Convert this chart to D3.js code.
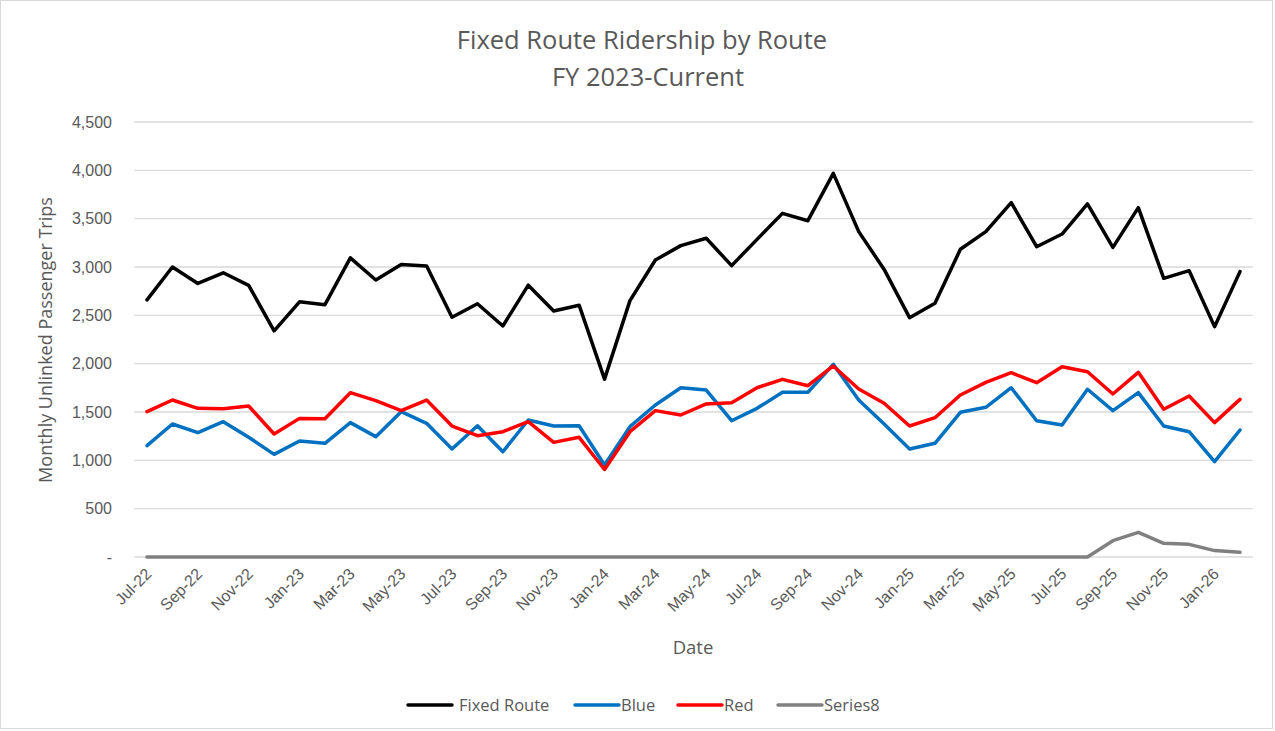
<!DOCTYPE html>
<html>
<head>
<meta charset="utf-8">
<script src="https://cdn.jsdelivr.net/npm/d3@7"></script>
<style>
  body { margin: 0; background: #fff; }
  svg { display: block; font-family: "Open Sans", "Liberation Sans", sans-serif; }
</style>
</head>
<body>
<div id="chart"></div>
<script>
// months Jul-22 .. Feb-26
var months = ["Jul-22","Aug-22","Sep-22","Oct-22","Nov-22","Dec-22",
  "Jan-23","Feb-23","Mar-23","Apr-23","May-23","Jun-23","Jul-23","Aug-23","Sep-23","Oct-23","Nov-23","Dec-23",
  "Jan-24","Feb-24","Mar-24","Apr-24","May-24","Jun-24","Jul-24","Aug-24","Sep-24","Oct-24","Nov-24","Dec-24",
  "Jan-25","Feb-25","Mar-25","Apr-25","May-25","Jun-25","Jul-25","Aug-25","Sep-25","Oct-25","Nov-25","Dec-25",
  "Jan-26","Feb-26"];

var fixedRoute = [2660, 3000, 2830, 2940, 2810, 2340, 2640, 2610, 3095, 2865, 3025, 3010,
  2480, 2620, 2390, 2812, 2545, 2605, 1840, 2652, 3072, 3221, 3297, 3014, 3286, 3555,
  3479, 3969, 3366, 2975, 2476, 2624, 3183, 3366, 3666, 3210, 3341, 3652, 3203, 3614,
  2883, 2962, 2383, 2952];

var blue = [1152, 1376, 1286, 1400, 1238, 1062, 1200, 1176, 1390, 1245, 1503, 1383,
  1117, 1358, 1089, 1417, 1355, 1358, 951, 1348, 1572, 1751, 1727, 1410, 1538, 1704,
  1704, 1993, 1624, 1376, 1117, 1176, 1497, 1549, 1751, 1410, 1366, 1735, 1514, 1700,
  1355, 1296, 986, 1314];

var red = [1503, 1624, 1538, 1534, 1562, 1272, 1434, 1431, 1700, 1617, 1514, 1624,
  1355, 1255, 1296, 1400, 1186, 1238, 905, 1296, 1514, 1469, 1583, 1596, 1751, 1838,
  1772, 1976, 1738, 1590, 1355, 1441, 1676, 1807, 1907, 1803, 1969, 1917, 1686, 1910,
  1528, 1666, 1390, 1631];

var series8 = [0, 0, 0, 0, 0, 0, 0, 0, 0, 0, 0, 0,
  0, 0, 0, 0, 0, 0, 0, 0, 0, 0, 0, 0, 0, 0,
  0, 0, 0, 0, 0, 0, 0, 0, 0, 0, 0, 0, 169, 255,
  141, 131, 66, 48];

var yTicks = [0, 500, 1000, 1500, 2000, 2500, 3000, 3500, 4000, 4500];

var seriesNames = ["Fixed Route", "Blue", "Red", "Series8"];
var seriesColors = ["#000000", "#0070C0", "#FF0000", "#808080"];

var W = 1275, H = 731;
var plotLeft = 134.3, plotRight = 1252.7, plotTop = 122, plotBottom = 557;
var textColor = "#595959";

var svg = d3.select("#chart").append("svg")
  .attr("width", W)
  .attr("height", H);

svg.append("rect")
  .attr("x", 0.5).attr("y", 0.5)
  .attr("width", W - 3).attr("height", H - 3)
  .attr("fill", "#fff")
  .attr("stroke", "#d9d9d9");

var x = d3.scalePoint().domain(months).range([plotLeft, plotRight]).padding(0.5);
var y = d3.scaleLinear().domain([0, 4500]).range([plotBottom, plotTop]);

// gridlines
svg.append("g")
  .selectAll("line")
  .data(yTicks)
  .enter().append("line")
  .attr("x1", plotLeft).attr("x2", plotRight)
  .attr("y1", function(d) { return y(d); })
  .attr("y2", function(d) { return y(d); })
  .attr("stroke", "#d9d9d9")
  .attr("stroke-width", 1.3);

// y axis labels
var yAxis = d3.axisLeft(y)
  .tickValues(yTicks)
  .tickSize(0)
  .tickPadding(0)
  .tickFormat(function(d) { return d === 0 ? "-" : d3.format(",")(d); });

svg.append("g")
  .attr("transform", "translate(112,0)")
  .call(yAxis)
  .call(function(g) { g.select(".domain").remove(); })
  .selectAll("text")
  .attr("fill", textColor)
  .style("font-size", "16px")
  .style("font-family", "inherit");

// x axis labels, every other month
var xAxis = d3.axisBottom(x)
  .tickValues(months.filter(function(d, i) { return i % 2 === 0; }))
  .tickSize(0)
  .tickPadding(0);

var gx = svg.append("g")
  .attr("transform", "translate(0," + plotBottom + ")")
  .call(xAxis);
gx.select(".domain").remove();
gx.selectAll("text")
  .attr("fill", textColor)
  .style("font-size", "16px")
  .style("font-family", "inherit")
  .attr("text-anchor", "end")
  .attr("dy", "0.35em")
  .attr("y", 0)
  .attr("transform", "translate(1,14) rotate(-45)");

// lines
var line = d3.line()
  .x(function(d, i) { return x(months[i]); })
  .y(function(d) { return y(d); });

var drawOrder = [3, 0, 1, 2];
var seriesData = [fixedRoute, blue, red, series8];

svg.append("g")
  .selectAll("path")
  .data(drawOrder)
  .enter().append("path")
  .attr("d", function(k) { return line(seriesData[k]); })
  .attr("fill", "none")
  .attr("stroke", function(k) { return seriesColors[k]; })
  .attr("stroke-width", 3.5)
  .attr("stroke-linejoin", "round")
  .attr("stroke-linecap", "round");

// titles
svg.append("text")
  .attr("x", 642).attr("y", 49)
  .attr("text-anchor", "middle")
  .attr("fill", textColor)
  .style("font-size", "25.5px")
  .text("Fixed Route Ridership by Route");
svg.append("text")
  .attr("x", 648).attr("y", 86)
  .attr("text-anchor", "middle")
  .attr("fill", textColor)
  .style("font-size", "25.5px")
  .text("FY 2023-Current");

svg.append("text")
  .attr("x", 693).attr("y", 654)
  .attr("text-anchor", "middle")
  .attr("fill", textColor)
  .style("font-size", "18.5px")
  .text("Date");

svg.append("text")
  .attr("transform", "translate(52,340) rotate(-90)")
  .attr("text-anchor", "middle")
  .attr("fill", textColor)
  .style("font-size", "18px")
  .text("Monthly Unlinked Passenger Trips");

// legend
var legendX = [407, 574, 677, 777];
var legend = svg.append("g")
  .selectAll("g")
  .data(seriesNames)
  .enter().append("g")
  .attr("transform", function(d, i) { return "translate(" + legendX[i] + ",705)"; });

legend.append("line")
  .attr("x1", 1).attr("x2", 45)
  .attr("stroke", function(d, i) { return seriesColors[i]; })
  .attr("stroke-width", 3.5)
  .attr("stroke-linecap", "round");

legend.append("text")
  .attr("x", function(d, i) { return i === 0 ? 52 : 47; })
  .attr("dy", "0.35em")
  .attr("fill", textColor)
  .style("font-size", "16.5px")
  .text(function(d) { return d; });
</script>
</body>
</html>
